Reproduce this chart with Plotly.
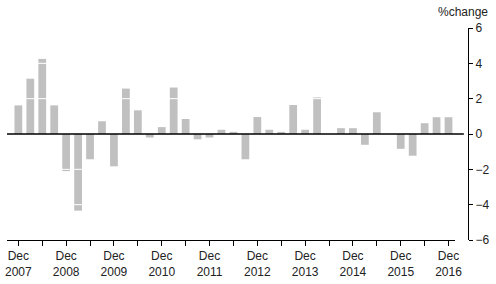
import plotly.graph_objects as go

quarters = [
    "Dec 2007", "Mar 2008", "Jun 2008", "Sep 2008",
    "Dec 2008", "Mar 2009", "Jun 2009", "Sep 2009",
    "Dec 2009", "Mar 2010", "Jun 2010", "Sep 2010",
    "Dec 2010", "Mar 2011", "Jun 2011", "Sep 2011",
    "Dec 2011", "Mar 2012", "Jun 2012", "Sep 2012",
    "Dec 2012", "Mar 2013", "Jun 2013", "Sep 2013",
    "Dec 2013", "Mar 2014", "Jun 2014", "Sep 2014",
    "Dec 2014", "Mar 2015", "Jun 2015", "Sep 2015",
    "Dec 2015", "Mar 2016", "Jun 2016", "Sep 2016",
    "Dec 2016",
]
pct_change = [
    1.62, 3.13, 4.25, 1.62,
    -2.10, -4.34, -1.43, 0.72,
    -1.83, 2.57, 1.34, -0.20,
    0.39, 2.63, 0.85, -0.30,
    -0.20, 0.24, 0.12, -1.43,
    0.96, 0.24, 0.12, 1.64,
    0.24, 2.07, 0.00, 0.33,
    0.33, -0.61, 1.23, 0.00,
    -0.84, -1.23, 0.61, 0.95,
    0.95,
]
y_ticks = [-6, -4, -2, 0, 2, 4, 6]
grid_levels = [-4, -2, 2, 4]

tick_vals = quarters[::2]
tick_text = [q.replace(" ", "<br>") if q.startswith("Dec") else "" for q in tick_vals]

fig = go.Figure()
fig.add_trace(go.Bar(x=quarters, y=pct_change, marker=dict(color="#c0c0c0", line=dict(width=0))))

font = dict(family="Liberation Sans, Arial, sans-serif", size=12, color="#222222")

shapes = []
for g in grid_levels:
    shapes.append(dict(type="line", xref="x domain", x0=0, x1=1, yref="y", y0=g, y1=g,
                       line=dict(color="white", width=1), layer="above"))
shapes.append(dict(type="line", xref="paper", x0=0, x1=0.991, yref="y", y0=0, y1=0,
                   line=dict(color="black", width=1.6), layer="above"))

fig.update_layout(
    width=496, height=284,
    margin=dict(l=5, r=28, t=28, b=42),
    paper_bgcolor="white", plot_bgcolor="white",
    showlegend=False, bargap=0.35,
    font=font,
    shapes=shapes,
    xaxis=dict(
        type="category", domain=[0, 0.972], range=[-0.95, 36.55],
        showgrid=False, zeroline=False,
        showline=True, linecolor="black", linewidth=1,
        ticks="outside", ticklen=5, tickcolor="black", tickwidth=1,
        tickmode="array", tickvals=tick_vals, ticktext=tick_text,
        tickfont=font, tickangle=0,
    ),
    yaxis=dict(
        range=[-6, 6], side="right", anchor="free", position=1.0,
        showgrid=False, zeroline=False,
        showline=True, linecolor="black", linewidth=1,
        ticks="outside", ticklen=4, tickcolor="black", tickwidth=1,
        tickmode="array", tickvals=y_ticks,
        tickfont=font,
    ),
    annotations=[dict(text="%change", xref="paper", yref="paper", x=1.0475, y=1.075,
                      xanchor="right", yanchor="middle", showarrow=False, font=font)],
)

fig.write_html("out.html")
